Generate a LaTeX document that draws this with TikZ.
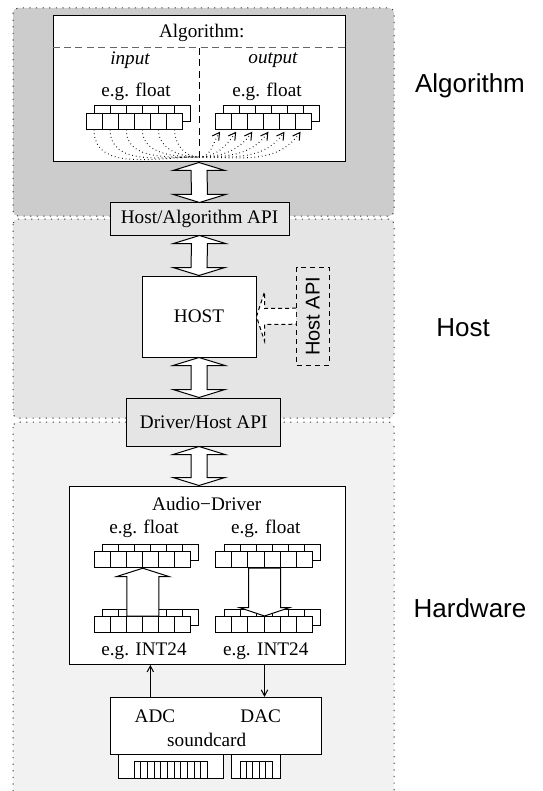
\documentclass[tikz,border=0pt]{standalone}
\usepackage{fontspec}
\setmainfont{Liberation Serif}
\setsansfont{Liberation Sans}
\usepackage{graphicx}
\usetikzlibrary{arrows.meta,calc}

\definecolor{algband}{gray}{0.8}
\definecolor{hostband}{gray}{0.9}
\definecolor{hwband}{gray}{0.95}
\definecolor{apifill}{gray}{0.9}

\begin{document}
\begin{tikzpicture}[
  x=0.5pt, y=-0.5pt,
  line width=0.5pt,
  font=\fontsize{9.6}{11}\selectfont,
  band/.style={draw=black!75,dash pattern=on 0.6pt off 2.7pt,rounded corners=2.5pt},
  box/.style={draw,fill=white,inner sep=0pt},
  apibox/.style={draw,fill=apifill,inner sep=0pt},
  cell/.style={draw,fill=white,minimum width=8.05pt,minimum height=8pt,inner sep=0pt},
  sidelbl/.style={font=\sffamily\fontsize{13}{15}\selectfont},
  dotcurve/.style={dash pattern=on 0.35pt off 1.5pt},
  barb/.style={-{Straight Barb[length=3pt,width=3.2pt]}},
  fatarr/.style={draw,fill=white,line join=miter}
]
\useasboundingbox (0,0) rectangle (542,791);

% ---- layer bands ----
\path[band,fill=algband]  (13,8)   rectangle (394,216);
\path[band,fill=hostband] (13,219) rectangle (394,418);
\path[band,fill=hwband]   (13,422) rectangle (394,800);

\node[sidelbl] (lalg) at (470,86)  {Algorithm};
\node[sidelbl] (lhst) at (463,328) {Host};
\node[sidelbl] (lhw)  at (470,608) {Hardware};

% ---- macros ----
\newcommand{\cellrow}[3]{% name, left x, centre y
  \foreach \i in {1,...,6}
    \node[cell] at ({#2+16.1*\i-8.05+8.3}, {#3-7.5}) {};
  \foreach \i in {1,...,6}
    \node[cell] (#1-\i) at ({#2+16.1*\i-8.05}, #3) {};
}
\newcommand{\fatarrow}[2]{% top tip, bottom tip
  \draw[fatarr] (#1) -- ($(#1)+(26,8)$) -- ($(#1)+(8,8)$) -- ($(#2)+(8,-8)$)
    -- ($(#2)+(26,-8)$) -- (#2) -- ($(#2)+(-26,-8)$) -- ($(#2)+(-8,-8)$)
    -- ($(#1)+(-8,8)$) -- ($(#1)+(-26,8)$) -- cycle;
}

% ---- algorithm ----
\node[box,minimum width=146pt,minimum height=73pt] (algo) at (199,89) {};
\coordinate (split) at (199,48);
\draw[black!60,dash pattern=on 3.5pt off 2.2pt] (algo.west |- split) -- (algo.east |- split);
\draw[dash pattern=on 3.5pt off 2.2pt] (split) -- (algo.south);
\node (talg) at (201.7,33) {Algorithm:};
\node (tin)  at (130,60) {\itshape input};
\node (tout) at (273,60) {\itshape output};
\node (fin)  at (136,92) {e.g. float};
\node (fout) at (267,92) {e.g. float};

\cellrow{in}{86}{121.2}
\cellrow{out}{215}{121.2}

\coordinate (mix) at (199,157);
\foreach \i in {1,...,6} {
  \draw[dotcurve] (in-\i.south) to[out=-90,in=180] (mix);
  \draw[dotcurve,-{Straight Barb[length=3.5pt,width=4pt]}] (mix) to[out=0,in=-125] ($(out-\i.south)+(-3,2)$);
}

% ---- host ----
\node[apibox,minimum width=89.5pt,minimum height=16pt] (haapi) at (199.5,219) {Host/Algorithm API};
\node[box,minimum width=57pt,minimum height=40.5pt] (host) at (199,316.5) {HOST};
\node[draw,dash pattern=on 2.5pt off 2pt,inner sep=0pt,minimum width=16.2pt,minimum height=48.8pt]
  (hostapi) at (312.8,316.2) {\rotatebox{90}{\sffamily\fontsize{10}{11}\selectfont Host API}};
\node[apibox,minimum width=77pt,minimum height=24pt] (dhapi) at (203.7,422) {Driver/Host API};

\fatarrow{algo.south}{haapi.north}
\fatarrow{haapi.south}{host.north}
\coordinate (d1) at (dhapi.north -| host.south);
\coordinate (d2) at (dhapi.south -| host.south);
\fatarrow{host.south}{d1}

\draw[fatarr,dash pattern=on 2pt off 1.5pt]
  ($(hostapi.west)+(0,-8)$) -- ($(host.east)+(8,-8)$) -- ($(host.east)+(8,-24.5)$)
  -- (host.east) -- ($(host.east)+(8,24.5)$) -- ($(host.east)+(8,8)$) -- ($(hostapi.west)+(0,8)$);

% ---- audio driver ----
\node[box,minimum width=137.8pt,minimum height=89.2pt] (driver) at (207.2,575.2) {};
\coordinate (d3) at (driver.north -| host.south);
\fatarrow{d2}{d3}

\node (tdrv)  at (206.7,504)   {Audio−Driver};
\node (fl)    at (144,529.3)   {e.g. float};
\node (fr)    at (265.7,529.3) {e.g. float};
\node (il)    at (144,651.7)   {e.g. INT24};
\node (ir)    at (265.7,651.7) {e.g. INT24};

\cellrow{ul}{94}{559.7}
\cellrow{ur}{215.7}{559.7}
\cellrow{ll}{94}{624.5}
\cellrow{lr}{215.7}{624.5}

\coordinate (upt) at (ul-3.south east);
\coordinate (upb) at (ll-3.north east);
\draw[fatarr] (upt) -- ($(upt)+(26,8.3)$) -- ($(upt)+(16,8.3)$) -- ($(upb)+(16,0)$)
  -- ($(upb)+(-16,0)$) -- ($(upt)+(-16,8.3)$) -- ($(upt)+(-26,8.3)$) -- cycle;
\coordinate (dnt) at (lr-3.north east);
\coordinate (dnb) at (ur-3.south east);
\draw[fatarr] (dnt) -- ($(dnt)+(24.7,-8.3)$) -- ($(dnt)+(16,-8.3)$) -- ($(dnb)+(16,0)$)
  -- ($(dnb)+(-16,0)$) -- ($(dnt)+(-16,-8.3)$) -- ($(dnt)+(-24.7,-8.3)$) -- cycle;

% ---- soundcard ----
\node[box,minimum width=105.5pt,minimum height=28.3pt] (card) at (215.5,725.7) {};
\node (tadc)  at (155,716.7)   {ADC};
\node (tdac)  at (260.7,716.7) {DAC};
\node (tcard) at (206.7,740)   {soundcard};

\draw[barb] (card.north -| ll-4) -- (driver.south -| ll-4);
\draw[barb] (driver.south -| dnt) -- (card.north -| dnt);

% slot connector
\draw[fill=white] (118.3,754) rectangle (223.7,778.3);
\draw[fill=white] (231.3,754) rectangle (280,778.3);
\foreach \k in {0,...,10}
  \draw (134+6.67*\k,761.7) rectangle +(6.67,16.6);
\foreach \k in {0,...,4}
  \draw (240+6.46*\k,761.7) rectangle +(6.46,16.6);

\end{tikzpicture}
\end{document}
